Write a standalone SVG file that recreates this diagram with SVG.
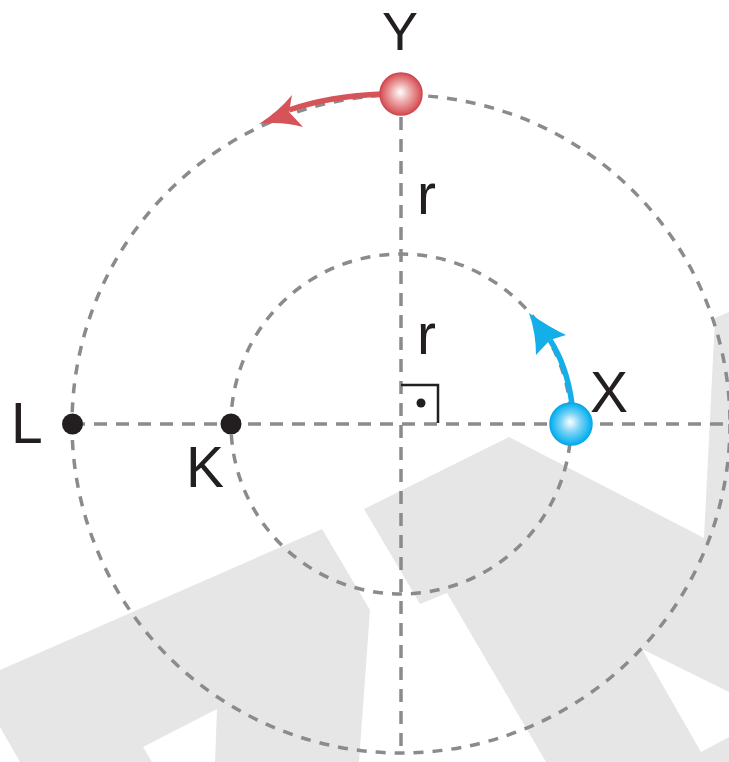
<svg xmlns="http://www.w3.org/2000/svg" width="729" height="762" viewBox="0 0 729 762">
<defs>
<style>
.wm{fill:#e6e6e6;stroke:none}
.ax{fill:none;stroke:#8b8b8f;stroke-width:3.5;stroke-dasharray:13 9}
.cr{fill:none;stroke:#8b8b8f;stroke-width:3.5;stroke-dasharray:10 9}
.lbl{font-family:"Liberation Sans",Arial,sans-serif;font-size:57px;fill:#231f20}
.dot{fill:#231f20}
</style>
<radialGradient id="gRed" cx="0.5" cy="0.5" r="0.5" fx="0.48" fy="0.45">
<stop offset="0" stop-color="#ffffff"/>
<stop offset="0.45" stop-color="#eeaaaa"/>
<stop offset="1" stop-color="#d44c52"/>
</radialGradient>
<radialGradient id="gBlue" cx="0.5" cy="0.5" r="0.5" fx="0.48" fy="0.45">
<stop offset="0" stop-color="#ffffff"/>
<stop offset="0.45" stop-color="#7fd4f6"/>
<stop offset="1" stop-color="#00aeef"/>
</radialGradient>
</defs>
<rect width="729" height="762" fill="#ffffff"/>
<g id="watermark">
<polygon class="wm" points="0,670 322,529 370,610 359,762 215,762 217,709 143,747 152,762 20,762 0,727"/>
<polygon class="wm" points="546,762 729,762 729,737 701,752 642,649 729,692 729,312 715,318 704,538 509,437 364,509 420,604 447,593"/>
</g>
<g id="guides">
<circle class="cr" cx="401" cy="424" r="329"/>
<circle class="cr" cx="401" cy="424" r="170"/>
<line class="ax" x1="72" y1="424" x2="729" y2="424"/>
<line class="ax" x1="401" y1="117" x2="401" y2="753"/>
<path d="M401,385 H438 V423" fill="none" stroke="#231f20" stroke-width="2.5"/>
<circle class="dot" cx="421" cy="403" r="4.5"/>
<text class="lbl" x="417" y="214">r</text>
<text class="lbl" x="417" y="354">r</text>
</g>
<g id="connectors">
<path d="M382,94 Q330,96 289,110" fill="none" stroke="#d6535a" stroke-width="5.5"/>
<path d="M259,124 Q279,111 292,95 L289,112 L303,127 Q281,121 259,124 Z" fill="#d6535a"/>
<path d="M572,404 Q567,366 550,340" fill="none" stroke="#14aee8" stroke-width="5.5"/>
<path d="M529,313 Q549,327 566,335 L550,340 L536,355 Q536,333 529,313 Z" fill="#14aee8"/>
</g>
<g id="node-Y">
<circle cx="401" cy="94" r="21" fill="url(#gRed)" stroke="#cf4a50" stroke-width="1.5"/>
<text class="lbl" x="400" y="50" text-anchor="middle" style="font-size:54px">Y</text>
</g>
<g id="node-X">
<circle cx="571" cy="424" r="21" fill="url(#gBlue)" stroke="#0fa8e6" stroke-width="1.5"/>
<text class="lbl" x="590" y="412">X</text>
</g>
<g id="node-L">
<circle class="dot" cx="72.5" cy="424" r="10.5"/>
<text class="lbl" x="11" y="443">L</text>
</g>
<g id="node-K">
<circle class="dot" cx="231" cy="424" r="10.5"/>
<text class="lbl" x="186" y="487">K</text>
</g>
</svg>
